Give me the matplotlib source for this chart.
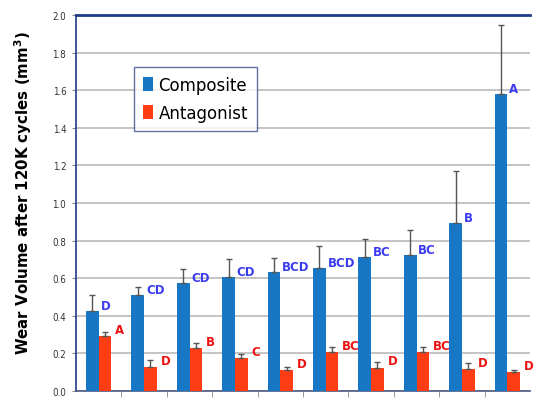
import numpy as np
import matplotlib.pyplot as plt
from matplotlib.ticker import FixedLocator

# 数据
categories = ['GS', 'UPLF3', 'HU', 'SP', 'FS', 'HR', 'TF', 'UPLF2', 'UPLF1', 'AF']
composite = [0.425, 0.51, 0.572, 0.606, 0.632, 0.655, 0.712, 0.722, 0.892, 1.58]
composite_err = [0.085, 0.042, 0.078, 0.094, 0.078, 0.118, 0.098, 0.133, 0.278, 0.368]
antagonist = [0.29, 0.13, 0.23, 0.175, 0.11, 0.205, 0.125, 0.205, 0.115, 0.10]
antagonist_err = [0.022, 0.036, 0.025, 0.02, 0.016, 0.028, 0.03, 0.028, 0.032, 0.014]
composite_letters = ['D', 'CD', 'CD', 'CD', 'BCD', 'BCD', 'BC', 'BC', 'B', 'A']
antagonist_letters = ['A', 'D', 'B', 'C', 'D', 'BC', 'D', 'BC', 'D', 'D']

blue = '#1877c5'
red = '#ff3d14'
navy = '#1f3a8a'

fig = plt.figure(figsize=(5.34, 4.14), dpi=100)
ax = fig.add_axes([76 / 534, 22 / 414, 454 / 534, 376 / 414])

x = np.arange(len(categories))
w = 0.28
ax.bar(x - w / 2, composite, w, color=blue, zorder=3,
       yerr=[np.zeros(len(x)), composite_err], ecolor='#555555',
       error_kw=dict(elinewidth=1, capsize=2.5, capthick=1, zorder=4))
ax.bar(x + w / 2, antagonist, w, color=red, zorder=3,
       yerr=[np.zeros(len(x)), antagonist_err], ecolor='#555555',
       error_kw=dict(elinewidth=1, capsize=2.5, capthick=1, zorder=4))

# 显著性字母
for i in range(len(x)):
    ax.text(x[i] + 0.04, composite[i] - 0.005, composite_letters[i], color='#3b3bf0',
            fontsize=8.5, fontweight='bold', ha='left', va='bottom', zorder=5)
    ax.text(x[i] + w + 0.08, antagonist[i] + 0.0, antagonist_letters[i], color='#ee1111',
            fontsize=8.5, fontweight='bold', ha='left', va='bottom', zorder=5)

ax.set_xlim(-0.5, 9.5)
ax.set_ylim(0, 2.0)
ax.set_yticks(np.arange(0, 2.01, 0.2))
ax.set_yticklabels(['%.1f' % v for v in np.arange(0, 2.01, 0.2)], fontsize=7, color='#333333',
                   fontstretch='condensed')
ax.set_xticks(x)
ax.set_xticklabels(categories, fontsize=8, color='#222222')
ax.tick_params(axis='x', length=0, pad=15)
ax.tick_params(axis='y', length=3, color='#888888', pad=4)
ax.xaxis.set_minor_locator(FixedLocator(np.arange(0.5, 9.5, 1)))
ax.tick_params(axis='x', which='minor', length=4, color='#888888', direction='out')

ax.grid(axis='y', color='#b4b4b4', linewidth=1.1, zorder=0)
ax.set_axisbelow(True)

ax.spines['left'].set_color(navy)
ax.spines['left'].set_linewidth(1.2)
ax.spines['top'].set_color(navy)
ax.spines['top'].set_linewidth(2)
ax.spines['bottom'].set_color('#4a5a80')
ax.spines['bottom'].set_linewidth(1.2)
ax.spines['right'].set_visible(False)

ax.set_ylabel('Wear Volume after 120K cycles (mm$^\\mathbf{3}$)', fontsize=10.8, fontweight='bold')
ax.yaxis.set_label_coords(-0.092, 0.529)

leg = ax.legend(['Composite', 'Antagonist'], loc='upper left', bbox_to_anchor=(0.11, 0.885),
                fontsize=12, frameon=True, fancybox=False, handlelength=0.6, handleheight=1.0,
                handletextpad=0.3, borderpad=0.55, labelspacing=0.6)
leg.get_frame().set_edgecolor('#3b4f8c')
leg.get_frame().set_linewidth(1.0)

fig.savefig('out.png', dpi=100)
